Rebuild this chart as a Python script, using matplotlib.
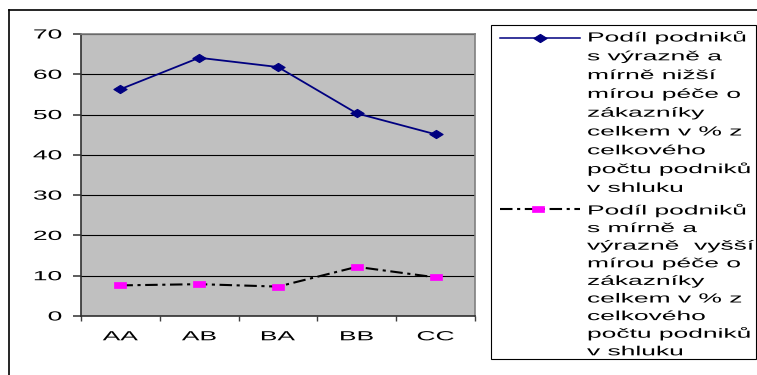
import matplotlib
matplotlib.use("Agg")
import matplotlib.pyplot as plt
from matplotlib.patheffects import AbstractPathEffect
from matplotlib.transforms import Affine2D
from matplotlib.lines import Line2D
from matplotlib.patches import Rectangle
from matplotlib.path import Path

# ---- data -------------------------------------------------------------
categories = ["AA", "AB", "BA", "BB", "CC"]
lower_care = [56.3, 64.1, 61.8, 50.3, 45.1]   # % of firms with lower customer care
higher_care = [7.6, 7.9, 7.3, 12.2, 9.6]      # % of firms with higher customer care
y_ticks = [0, 10, 20, 30, 40, 50, 60, 70]

label_lower = ["Podíl podniků", "s výrazně a", "mírně nižší", "mírou péče o",
               "zákazníky", "celkem v % z", "celkového", "počtu podniků",
               "v shluku"]
label_higher = ["Podíl podniků", "s mírně a", "výrazně  vyšší", "mírou péče o",
                "zákazníky", "celkem v % z", "celkového", "počtu podniků",
                "v shluku"]

# ---- styling ----------------------------------------------------------
W, H = 757, 375
FONT = "Liberation Sans"
NAVY = "#000080"
MAGENTA = "#FF00FF"
PLOT_BG = "#C0C0C0"
STRETCH = 2.0


class WideText(AbstractPathEffect):
    """Draws text glyphs horizontally widened around an anchor."""

    def __init__(self, sx=2.0, anchor="left"):
        super().__init__()
        self.sx = sx
        self.anchor = anchor

    def draw_path(self, renderer, gc, tpath, affine, rgbFace=None):
        ext = tpath.get_extents()
        if self.anchor == "left":
            x0 = 0.0
        elif self.anchor == "right":
            x0 = ext.x1
        else:
            x0 = 0.5 * (ext.x0 + ext.x1)
        widen = Affine2D().translate(-x0, 0).scale(self.sx, 1).translate(x0, 0)
        renderer.draw_path(gc, tpath, widen + affine, rgbFace)


def fx(px):
    return px / W


def fy(py):
    return 1 - py / H


# wide markers: flattened diamond and flat rectangle
diamond = Path([(-1, 0), (0, 0.62), (1, 0), (0, -0.62), (-1, 0)], closed=True)
flat_sq = Path([(-1, -0.55), (1, -0.55), (1, 0.55), (-1, 0.55), (-1, -0.55)],
               closed=True)
dash_style = (0, (6, 2.2, 1.5, 2.2))

fig = plt.figure(figsize=(W / 100, H / 100), dpi=100)
fig.patch.set_facecolor("white")

ax = fig.add_axes([fx(81), fy(316), (475 - 81) / W, (316 - 34) / H])
ax.set_facecolor(PLOT_BG)

xpos = [i + 0.5 for i in range(len(categories))]

ax.plot(xpos, higher_care, color="black", lw=1.5, linestyle=dash_style,
        marker=flat_sq, markersize=9, markerfacecolor=MAGENTA,
        markeredgecolor=MAGENTA, markeredgewidth=0.5, zorder=3)
ax.plot(xpos, lower_care, color=NAVY, lw=1.3,
        marker=diamond, markersize=9.5, markerfacecolor=NAVY,
        markeredgecolor=NAVY, markeredgewidth=0.8, zorder=3)

ax.set_xlim(0, len(categories))
ax.set_ylim(y_ticks[0], y_ticks[-1])

# horizontal grid
ax.set_yticks(y_ticks)
ax.yaxis.grid(True, color="black", lw=0.8)
ax.set_axisbelow(True)

# y tick labels
ax.tick_params(axis="y", direction="out", length=5.8, width=1.1,
               color="#303030", pad=8, labelsize=9.5)
for lab in ax.get_yticklabels():
    lab.set_fontfamily(FONT)
    lab.set_path_effects([WideText(STRETCH, "right")])

# x: boundary ticks, category labels centred between them
ax.set_xticks(range(len(categories) + 1))
ax.set_xticklabels([])
ax.set_xticks(xpos, minor=True)
ax.set_xticklabels(categories, minor=True)
ax.tick_params(axis="x", which="major", direction="out", length=3.6,
               width=1.0, color="#404040")
ax.tick_params(axis="x", which="minor", length=0, pad=11, labelsize=9.5)
for lab in ax.get_xticklabels(minor=True):
    lab.set_fontfamily(FONT)
    lab.set_path_effects([WideText(STRETCH, "center")])

for side in ("top", "right"):
    ax.spines[side].set_color("#808080")
    ax.spines[side].set_linewidth(1.2)
ax.spines["left"].set_color("#303030")
ax.spines["left"].set_linewidth(1.2)
ax.spines["bottom"].set_color("#303030")
ax.spines["bottom"].set_linewidth(1.2)

# chart-area frame (top and left edges)
fig.add_artist(Line2D([fx(8.5), fx(757)], [fy(10), fy(10)],
                      transform=fig.transFigure, color="black", lw=1.2))
fig.add_artist(Line2D([fx(8.5), fx(8.5)], [fy(10), fy(375)],
                      transform=fig.transFigure, color="black", lw=1.2))

# legend box
fig.add_artist(Rectangle((fx(491), fy(359)), (756 - 491) / W, (359 - 25) / H,
                         transform=fig.transFigure, facecolor="white",
                         edgecolor="black", lw=0.8))

# legend handles
fig.add_artist(Line2D([fx(500), fx(580)], [fy(38), fy(38)],
                      transform=fig.transFigure, color=NAVY, lw=1.1))
fig.add_artist(Line2D([fx(540)], [fy(38)], transform=fig.transFigure,
                      marker=diamond, markersize=9.5, color=NAVY,
                      markeredgewidth=0.8, linestyle="none"))
fig.add_artist(Line2D([fx(500), fx(580)], [fy(209), fy(209)],
                      transform=fig.transFigure, color="black", lw=1.5,
                      linestyle=dash_style))
fig.add_artist(Line2D([fx(538)], [fy(209)], transform=fig.transFigure,
                      marker=flat_sq, markersize=9, markerfacecolor=MAGENTA,
                      markeredgecolor=MAGENTA, markeredgewidth=0.5,
                      linestyle="none"))


def legend_block(lines, first_baseline, step):
    for i, text in enumerate(lines):
        fig.text(fx(587), fy(first_baseline + i * step), text,
                 ha="left", va="baseline", fontsize=9.5, family=FONT,
                 color="black", path_effects=[WideText(STRETCH, "left")])


legend_block(label_lower, 41.5, 18.8)
legend_block(label_higher, 214.5, 17.6)

fig.savefig("out.png", dpi=100, facecolor="white")
